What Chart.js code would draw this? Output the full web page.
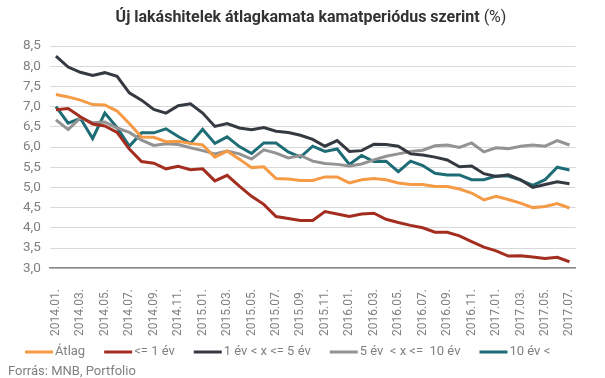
<!DOCTYPE html>
<html>
<head>
<meta charset="utf-8">
<script src="https://cdn.jsdelivr.net/npm/chart.js@4.4.0/dist/chart.umd.min.js"></script>
<style>
  html, body { margin: 0; padding: 0; background: #ffffff; }
  #wrap { width: 605px; height: 378px; position: relative; }
</style>
</head>
<body>
<div id="wrap"><canvas id="c" width="605" height="378"></canvas></div>
<script>
const categories = [
  "2014.01.","2014.02.","2014.03.","2014.04.","2014.05.","2014.06.","2014.07.","2014.08.","2014.09.","2014.10.","2014.11.","2014.12.",
  "2015.01.","2015.02.","2015.03.","2015.04.","2015.05.","2015.06.","2015.07.","2015.08.","2015.09.","2015.10.","2015.11.","2015.12.",
  "2016.01.","2016.02.","2016.03.","2016.04.","2016.05.","2016.06.","2016.07.","2016.08.","2016.09.","2016.10.","2016.11.","2016.12.",
  "2017.01.","2017.02.","2017.03.","2017.04.","2017.05.","2017.06.","2017.07."
];
const atlag = [7.30,7.24,7.16,7.05,7.04,6.89,6.58,6.25,6.24,6.13,6.14,6.09,6.05,5.75,5.90,5.70,5.49,5.51,5.22,5.21,5.17,5.17,5.26,5.26,5.11,5.19,5.22,5.19,5.11,5.07,5.07,5.02,5.02,4.96,4.86,4.69,4.78,4.70,4.61,4.50,4.53,4.60,4.49];
const upTo1 = [6.92,6.95,6.75,6.57,6.52,6.36,5.95,5.64,5.60,5.46,5.52,5.44,5.46,5.16,5.30,5.03,4.78,4.58,4.28,4.23,4.18,4.18,4.40,4.34,4.28,4.34,4.36,4.21,4.13,4.06,4.00,3.89,3.89,3.80,3.66,3.52,3.43,3.30,3.31,3.28,3.24,3.27,3.16];
const from1to5 = [8.25,7.98,7.85,7.77,7.84,7.75,7.34,7.16,6.93,6.84,7.02,7.07,6.84,6.51,6.58,6.47,6.43,6.48,6.39,6.36,6.29,6.19,6.02,6.16,5.89,5.91,6.07,6.06,6.02,5.83,5.80,5.75,5.68,5.51,5.53,5.34,5.27,5.31,5.19,5.00,5.07,5.14,5.09];
const from5to10 = [6.67,6.43,6.72,6.60,6.62,6.47,6.36,6.17,6.04,6.08,6.06,5.98,5.91,5.83,5.90,5.83,5.70,5.93,5.85,5.73,5.79,5.65,5.59,5.57,5.53,5.58,5.68,5.77,5.83,5.89,5.92,6.03,6.05,5.99,6.10,5.88,5.98,5.96,6.02,6.05,6.02,6.16,6.05];
const over10 = [7.00,6.59,6.71,6.21,6.84,6.48,6.02,6.35,6.35,6.45,6.26,6.09,6.44,6.09,6.25,6.01,5.84,6.10,6.10,5.88,5.75,6.02,5.89,5.95,5.57,5.79,5.64,5.65,5.39,5.65,5.54,5.35,5.31,5.31,5.19,5.19,5.28,5.28,5.18,5.05,5.19,5.50,5.43];
const seriesNames = ["Átlag", "<= 1 év", "1 év < x <= 5 év", "5 év  < x <=  10 év", "10 év <"];
const titleBold = "Új lakáshitelek átlagkamata kamatperiódus szerint";
const titleNormal = " (%)";
const sourceText = "Forrás: MNB, Portfolio";

const colors = ["#F59A45", "#A32E20", "#353942", "#939393", "#1E6D76"];
const seriesData = [atlag, upTo1, from1to5, from5to10, over10];

const textPlugin = {
  id: 'texts',
  afterDraw(chart) {
    const ctx = chart.ctx;
    ctx.save();
    ctx.textBaseline = 'middle';
    // title
    ctx.fillStyle = '#333333';
    const fb = 'bold 16px Roboto';
    const fn = '16px Roboto';
    ctx.font = fb; const w1 = ctx.measureText(titleBold).width;
    ctx.font = fn; const w2 = ctx.measureText(titleNormal).width;
    let x = 311 - (w1 + w2) / 2;
    ctx.textAlign = 'left';
    ctx.font = fb; ctx.fillText(titleBold, x, 18);
    ctx.font = fn; ctx.fillText(titleNormal, x + w1, 18);
    // legend
    ctx.font = '13px Roboto';
    let lx = 25;
    const ly = 352;
    chart.data.datasets.forEach(ds => {
      ctx.fillStyle = ds.borderColor;
      ctx.fillRect(lx, ly - 1.5, 28, 3);
      ctx.fillStyle = '#808080';
      ctx.fillText(ds.label, lx + 30, ly);
      lx += 30 + ctx.measureText(ds.label).width + 19;
    });
    // source
    ctx.fillStyle = '#808080';
    ctx.fillText(sourceText, 8, 372);
    ctx.restore();
  }
};

Chart.defaults.font.family = 'Roboto';
new Chart(document.getElementById('c'), {
  type: 'line',
  data: {
    labels: categories,
    datasets: seriesData.map((d, i) => ({
      label: seriesNames[i],
      data: d,
      borderColor: colors[i],
      backgroundColor: colors[i],
      borderWidth: 3,
      pointRadius: 0,
      tension: 0,
      fill: false
    }))
  },
  options: {
    responsive: false,
    animation: false,
    layout: { padding: { top: 46, right: 11, left: 14, bottom: 21 } },
    plugins: {
      title: { display: false },
      legend: { display: false },
      tooltip: { enabled: false }
    },
    scales: {
      x: {
        offset: true,
        grid: { display: false, drawTicks: false },
        border: { display: true, color: '#8a8a8a', width: 1.5 },
        ticks: {
          autoSkip: false,
          minRotation: 90,
          maxRotation: 90,
          padding: 21,
          color: '#808080',
          font: { size: 12 },
          callback(v, i) { return i % 2 === 0 ? categories[i] : ''; }
        }
      },
      y: {
        min: 3,
        max: 8.5,
        grid: { color: '#d9d9d9', lineWidth: 1, drawTicks: false },
        border: { display: false },
        ticks: {
          stepSize: 0.5,
          padding: 9,
          color: '#808080',
          font: { size: 13.5 },
          callback(v) { return v.toFixed(1).replace('.', ','); }
        }
      }
    }
  },
  plugins: [textPlugin]
});
</script>
</body>
</html>
